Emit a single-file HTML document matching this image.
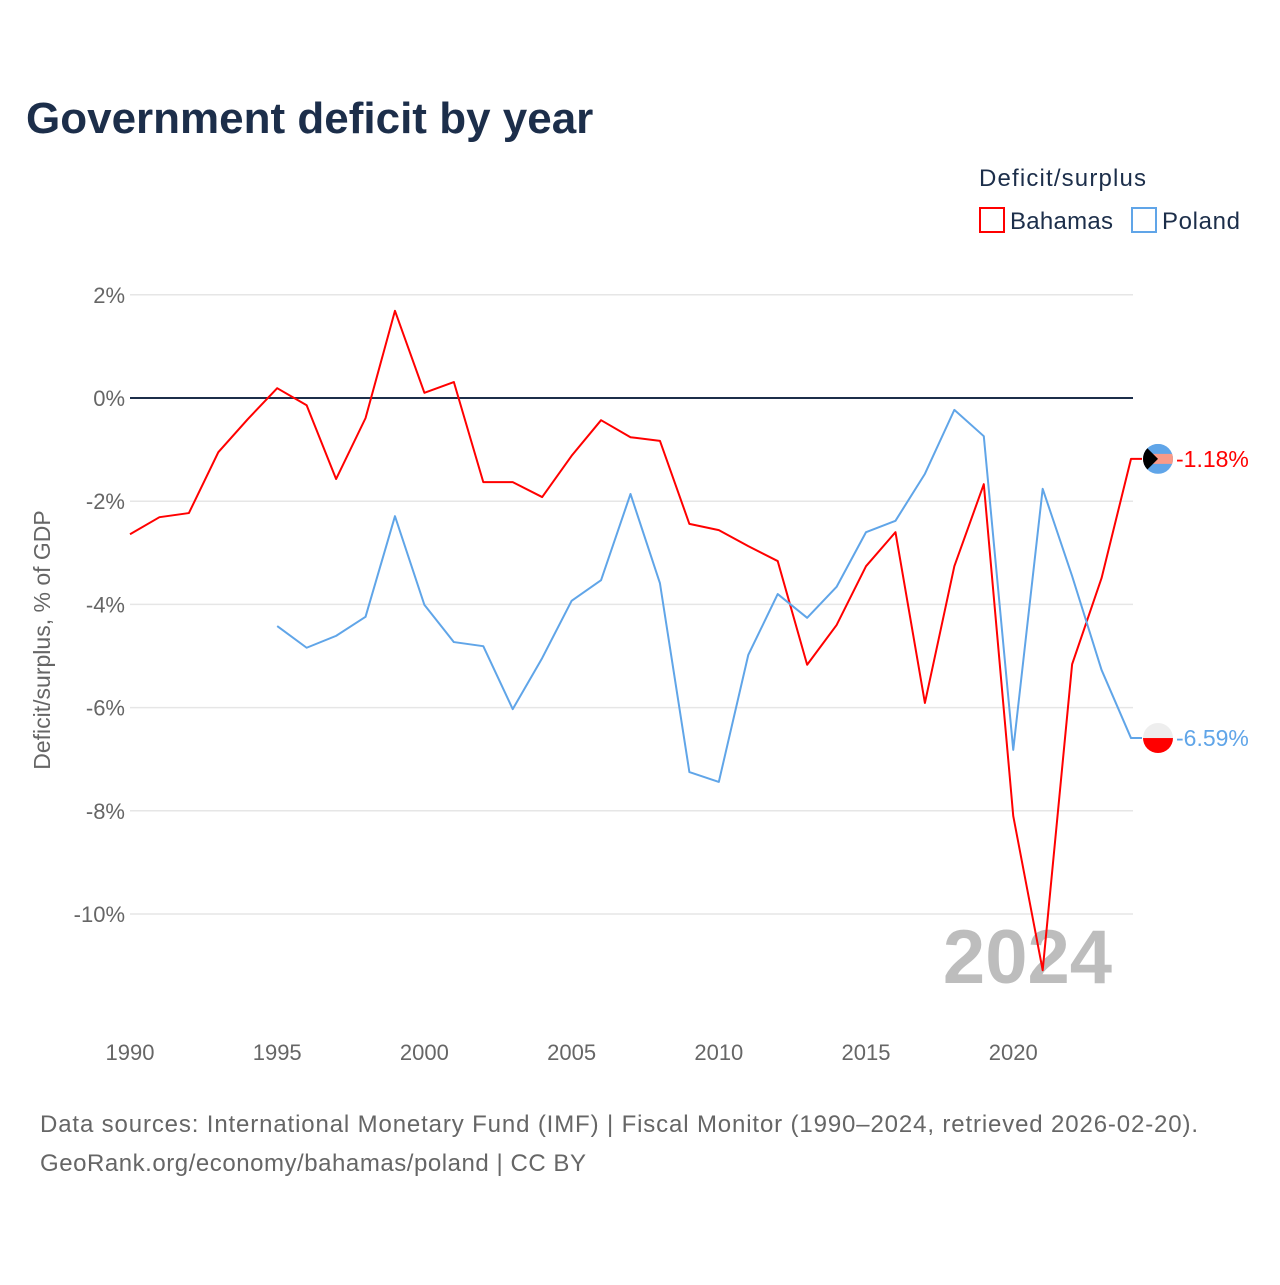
<!DOCTYPE html>
<html><head><meta charset="utf-8"><style>
body{margin:0;background:#fff;font-family:"Liberation Sans",sans-serif;}
svg text{font-family:"Liberation Sans",sans-serif;}
</style></head><body>
<svg id="chart" width="1280" height="1280" viewBox="0 0 1280 1280" xmlns="http://www.w3.org/2000/svg">
<text x="26" y="133" font-size="44" font-weight="bold" fill="#1c2e4a">Government deficit by year</text>
<g>
<text x="979" y="186" font-size="24" fill="#1c2e4a" textLength="167">Deficit/surplus</text>
<g><rect x="980" y="208" width="24" height="24" fill="none" stroke="#ff0000" stroke-width="2"/><text x="1010" y="229" font-size="24" fill="#1c2e4a" textLength="103">Bahamas</text></g>
<g><rect x="1132" y="208" width="24" height="24" fill="none" stroke="#60a5e8" stroke-width="2"/><text x="1162" y="229" font-size="24" fill="#1c2e4a" textLength="78">Poland</text></g>
</g>
<g id="grid"></g>
<g id="yticks"></g>
<g id="xticks"></g>
<text transform="translate(50,640) rotate(-90)" text-anchor="middle" font-size="23" fill="#666">Deficit/surplus, % of GDP</text>
<text x="1112" y="983" text-anchor="end" font-size="76" font-weight="bold" fill="#bdbdbd">2024</text>
<g id="series"></g>
<g>
<text x="40" y="1132" font-size="24" fill="#666" textLength="1158">Data sources: International Monetary Fund (IMF) | Fiscal Monitor (1990–2024, retrieved 2026-02-20).</text>
<text x="40" y="1171" font-size="24" fill="#666" textLength="546">GeoRank.org/economy/bahamas/poland | CC BY</text>
</g>
</svg>
<script>
const years = [1990,1991,1992,1993,1994,1995,1996,1997,1998,1999,2000,2001,2002,2003,2004,2005,2006,2007,2008,2009,2010,2011,2012,2013,2014,2015,2016,2017,2018,2019,2020,2021,2022,2023,2024];
const bahamas = [-2.64,-2.31,-2.23,-1.05,-0.41,0.19,-0.14,-1.57,-0.39,1.69,0.10,0.31,-1.63,-1.63,-1.92,-1.12,-0.43,-0.76,-0.83,-2.44,-2.56,-2.87,-3.16,-5.17,-4.40,-3.26,-2.60,-5.91,-3.26,-1.67,-8.10,-11.09,-5.16,-3.49,-1.18];
const poland = [null,null,null,null,null,-4.42,-4.84,-4.61,-4.24,-2.29,-4.01,-4.73,-4.81,-6.03,-5.04,-3.93,-3.53,-1.86,-3.59,-7.25,-7.44,-4.98,-3.80,-4.26,-3.66,-2.60,-2.38,-1.47,-0.23,-0.74,-6.82,-1.76,-3.45,-5.27,-6.59];
const yTicks = [2,0,-2,-4,-6,-8,-10];
const xTicks = [1990,1995,2000,2005,2010,2015,2020];
const NS="http://www.w3.org/2000/svg";
const xS = y => 130 + (y-1990)*(1131-130)/34;
const yS = v => 398 - v*51.6;
function mk(tag, attrs, parent){const e=document.createElementNS(NS,tag);for(const k in attrs)e.setAttribute(k,attrs[k]);parent.appendChild(e);return e;}
const grid=document.getElementById('grid'), yt=document.getElementById('yticks'), xt=document.getElementById('xticks'), ser=document.getElementById('series');
yTicks.forEach(t=>{
  const l=mk('line',{x1:130,x2:1133,y1:yS(t),y2:yS(t),stroke:t===0?'#1c2e4a':'#e6e6e6','stroke-width':t===0?2:1.5},grid);
  
  
  const tx=mk('text',{x:125,y:yS(t)+8,'text-anchor':'end','font-size':22,fill:'#666'},yt);
  tx.textContent=t+'%';
  
  
});
xTicks.forEach(t=>{
  const tx=mk('text',{x:xS(t),y:1060,'text-anchor':'middle','font-size':22,fill:'#666'},xt);
  tx.textContent=t;
  
  
});
function line(vals,color,name){
  let d='';let started=false;let last=null;
  vals.forEach((v,i)=>{if(v===null)return;d+=(started?'L':'M')+xS(years[i])+' '+yS(v)+' ';started=true;last=v;});
  d+='L1142 '+yS(last);
  const p=mk('path',{d:d,fill:'none',stroke:color,'stroke-width':2,'stroke-linejoin':'round'},ser);
  
  
  return last;
}
const lb=line(bahamas,'#ff0000','bahamas-line');
const lp=line(poland,'#60a5e8','poland-line');
const by=yS(lb), py=yS(lp);
const fb=mk('g',{},ser);


mk('clipPath',{id:'cb'},fb);
mk('circle',{cx:1158,cy:by,r:15},document.getElementById('cb'));
const gb=mk('g',{'clip-path':'url(#cb)'},fb);
mk('rect',{x:1143,y:by-15,width:30,height:30,fill:'#60a5e8'},gb);
mk('rect',{x:1143,y:by-5,width:30,height:10,fill:'#f99a88'},gb);
mk('polygon',{points:`1143,${by-15} 1158,${by} 1143,${by+15}`,fill:'#000'},gb);
const fp=mk('g',{},ser);


mk('clipPath',{id:'cp'},fp);
mk('circle',{cx:1158,cy:py,r:15},document.getElementById('cp'));
const gp=mk('g',{'clip-path':'url(#cp)'},fp);
mk('rect',{x:1143,y:py-15,width:30,height:15,fill:'#eeeeee'},gp);
mk('rect',{x:1143,y:py,width:30,height:15,fill:'#ff0000'},gp);
const tb=mk('text',{x:1176,y:by+8,'font-size':23,fill:'#ff0000'},ser);
tb.textContent=lb.toFixed(2)+'%';


const tp=mk('text',{x:1176,y:py+8,'font-size':23,fill:'#60a5e8'},ser);
tp.textContent=lp.toFixed(2)+'%';


</script>
</body></html>
